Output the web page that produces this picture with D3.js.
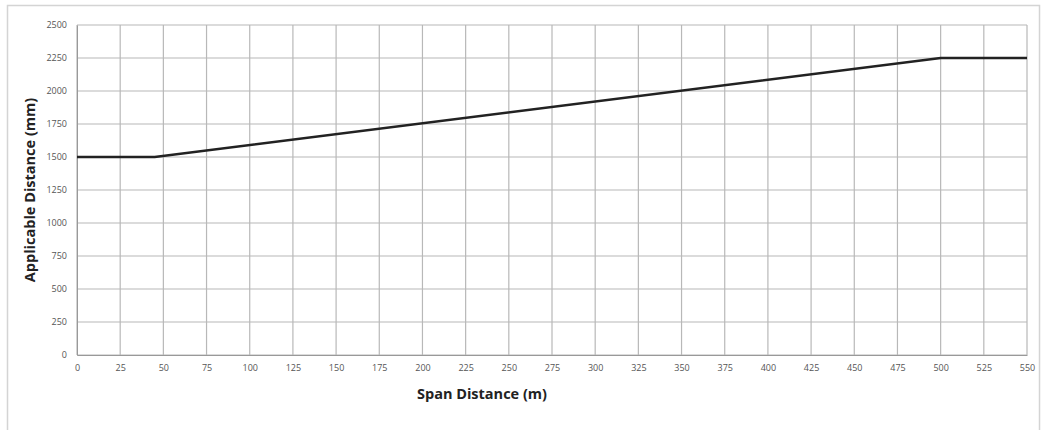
<!DOCTYPE html>
<html><head><meta charset="utf-8">
<script src="https://cdn.jsdelivr.net/npm/d3@7"></script>
<style>body{margin:0;background:#fff;}svg{display:block;}</style>
</head><body>
<script>
const spanDistance = [0, 45, 500, 550];
const applicableDistance = [1500, 1500, 2250, 2250];
const xTicks = d3.range(0, 551, 25);
const yTicks = d3.range(0, 2501, 250);
const xTitle = "Span Distance (m)";
const yTitle = "Applicable Distance (mm)";

const W = 1042, H = 430;
const m = {left: 77, right: 15, top: 25, bottom: 75};
const svg = d3.select("body").append("svg").attr("width", W).attr("height", H);
svg.append("rect").attr("x", 7.5).attr("y", 5.5).attr("width", 1032).attr("height", 440)
  .attr("fill", "#fff").attr("stroke", "#d4d4d4").attr("stroke-width", 1.5);

const x = d3.scaleLinear().domain([0, 550]).range([m.left, W - m.right]);
const y = d3.scaleLinear().domain([0, 2500]).range([H - m.bottom, m.top]);

const g = svg.append("g");
g.selectAll(".vg").data(xTicks).join("line")
  .attr("x1", d => x(d)).attr("x2", d => x(d)).attr("y1", y(0)).attr("y2", y(2500))
  .attr("stroke", "#b8b8b8").attr("stroke-width", 1.2);
g.selectAll(".hg").data(yTicks).join("line")
  .attr("y1", d => y(d)).attr("y2", d => y(d)).attr("x1", x(0)).attr("x2", x(550))
  .attr("stroke", "#b8b8b8").attr("stroke-width", 1.2);

const fmt = d3.format("d");
const xAxis = svg.append("g").attr("transform", `translate(0,${y(0)})`)
  .call(d3.axisBottom(x).tickValues(xTicks).tickFormat(fmt).tickSize(0).tickPadding(10));
xAxis.select(".domain").attr("stroke", "#999");
xAxis.selectAll("text").attr("font-family", "Open Sans, sans-serif").attr("font-size", 9).attr("fill", "#555");

const yAxis = svg.append("g").attr("transform", `translate(${x(0)},0)`)
  .call(d3.axisLeft(y).tickValues(yTicks).tickFormat(fmt).tickSize(0).tickPadding(10));
yAxis.select(".domain").attr("stroke", "#999");
yAxis.selectAll("text").attr("font-family", "Open Sans, sans-serif").attr("font-size", 9).attr("fill", "#555");

const line = d3.line().x((d, i) => x(spanDistance[i])).y(d => y(d));
svg.append("path").datum(applicableDistance).attr("d", line)
  .attr("fill", "none").attr("stroke", "#222").attr("stroke-width", 2.5);

svg.append("text").attr("x", 482).attr("y", 399).attr("text-anchor", "middle")
  .attr("font-family", "Open Sans, sans-serif").attr("font-weight", "bold").attr("font-size", 14.5)
  .attr("fill", "#222").text(xTitle);
svg.append("text").attr("transform", `translate(35,${(y(0) + y(2500)) / 2}) rotate(-90)`)
  .attr("text-anchor", "middle")
  .attr("font-family", "Open Sans, sans-serif").attr("font-weight", "bold").attr("font-size", 14.5)
  .attr("fill", "#222").text(yTitle);
</script>
</body></html>
